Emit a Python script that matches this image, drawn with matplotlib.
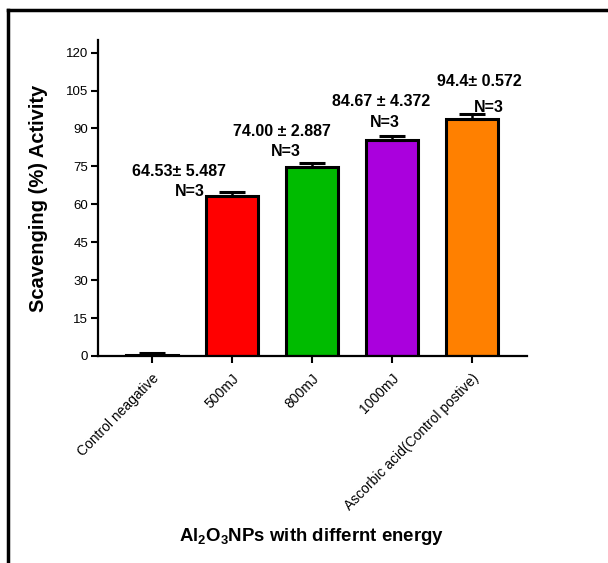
import matplotlib
matplotlib.use("Agg")
import matplotlib.pyplot as plt
from matplotlib.lines import Line2D

categories = ["Control neagative", "500mJ", "800mJ", "1000mJ", "Ascorbic acid(Control postive)"]
means = [0.5, 63.1, 74.6, 85.5, 93.9]
errs = [0.7, 1.7, 1.8, 1.6, 1.7]
colors = ["white", "#ff0000", "#00bb00", "#aa00dd", "#ff8000"]
labels_top = ["", "64.53\u00b1 5.487", "74.00 \u00b1 2.887", "84.67 \u00b1 4.372", "94.4\u00b1 0.572"]
yticks = [0, 15, 30, 45, 60, 75, 90, 105, 120]

plt.rcParams["font.family"] = ["Liberation Sans", "DejaVu Sans"]
plt.rcParams["mathtext.default"] = "regular"

fig = plt.figure(figsize=(6.08, 5.63), dpi=100)
ax = fig.add_axes([0.1607, 0.3677, 0.7061, 0.5613])

x = list(range(len(categories)))
ax.bar(x, means, width=0.65, color=colors, edgecolor="black", linewidth=2.2, zorder=2)
ax.errorbar(x, means, yerr=[[0] * len(errs), errs], fmt="none", ecolor="black",
            elinewidth=1.8, capsize=9.4, capthick=2.2, zorder=3)

ax.set_xlim(-0.68, 4.69)
ax.set_ylim(0, 125)
ax.set_yticks(yticks)
ax.set_yticklabels([str(t) for t in yticks], fontsize=9.5)
ax.set_xticks(x)
ax.set_xticklabels(categories, rotation=45.5, ha="right", rotation_mode="anchor", fontsize=10)
ax.tick_params(axis="both", direction="out", length=5, width=1.5)
ax.tick_params(axis="x", pad=6)
ax.tick_params(axis="y", pad=2)
for s in ["top", "right"]:
    ax.spines[s].set_visible(False)
for s in ["left", "bottom"]:
    ax.spines[s].set_linewidth(1.6)

ax.set_ylabel("Scavenging (%) Activity", fontsize=14.5, fontweight="bold", labelpad=13)
fig.text(0.5125, 0.0467, r"Al$_2$O$_3$NPs with differnt energy", ha="center", va="center",
         fontsize=13.4, fontweight="bold")

# value labels (mean ± SD) and N above bars
label_pos = [None, (0.335, 72.9), (1.63, 88.7), (2.86, 100.6), (4.10, 108.5)]
n_pos = [None, (0.47, 65.0), (1.67, 80.8), (2.91, 92.3), (4.21, 98.2)]
for i in range(1, len(categories)):
    ax.text(*label_pos[i], labels_top[i], ha="center", va="center", fontsize=11.5,
            fontweight="bold")
    ax.text(*n_pos[i], "N=3", ha="center", va="center", fontsize=11.5, fontweight="bold")

# frame around the figure (cut off at right and bottom)
fig.add_artist(Line2D([7.5 / 608, 1.0], [1 - 10 / 563, 1 - 10 / 563], color="black", lw=2.5))
fig.add_artist(Line2D([7.5 / 608, 7.5 / 608], [0.0, 1 - 10 / 563], color="black", lw=2.5))

fig.savefig("out.png", dpi=100)
